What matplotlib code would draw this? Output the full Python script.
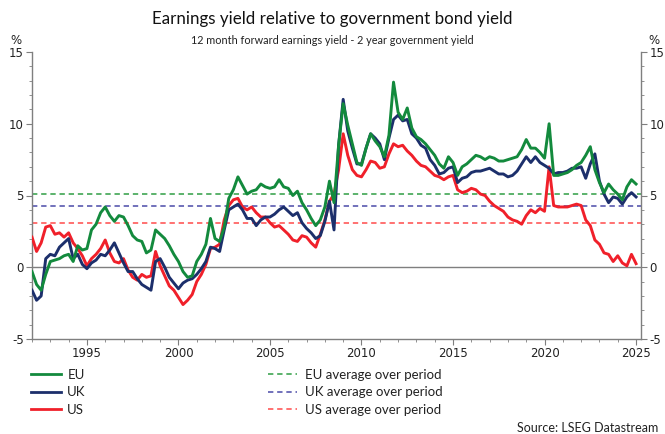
import numpy as np
import matplotlib
matplotlib.use("Agg")
import matplotlib.pyplot as plt
from matplotlib.ticker import MultipleLocator

# ---- data (quarterly readings, 1992.00 .. 2025.00) ----
start_year = 1992.0
step = 0.25

eu = [-0.3, -1.2, -1.6, -0.5, 0.4, 0.5, 0.6, 0.8, 0.9, 0.4, 1.5, 1.2,
      1.3, 2.6, 3.0, 3.8, 4.2, 3.6, 3.2, 3.6, 3.5, 2.9, 2.2, 1.9,
      1.8, 1.0, 1.2, 2.6, 2.3, 2.0, 1.5, 0.9, 0.4, -0.3, -0.7, -0.6,
      0.4, 0.9, 1.6, 3.4, 2.0, 1.8, 2.8, 4.8, 5.4, 6.3, 5.7, 5.1,
      5.3, 5.4, 5.8, 5.6, 5.5, 5.6, 6.1, 5.6, 5.5, 5.0, 5.3, 4.5,
      4.0, 3.4, 2.9, 3.3, 4.2, 6.0, 4.5, 8.5, 11.4, 9.9, 8.6, 7.3,
      7.1, 8.3, 9.3, 8.8, 8.4, 7.7, 9.2, 12.9, 10.8, 10.3, 11.1, 9.7,
      9.1, 8.9, 8.6, 8.2, 7.8, 7.2, 6.9, 7.7, 7.3, 6.4, 7.0, 7.2,
      7.5, 7.8, 7.7, 7.5, 7.7, 7.6, 7.4, 7.4, 7.5, 7.6, 7.7, 8.2,
      8.9, 8.3, 8.3, 8.0, 7.6, 10.0, 6.4, 6.4, 6.5, 6.6, 6.8, 7.1,
      7.3, 7.8, 8.4, 6.8, 5.9, 5.2, 5.8, 5.4, 5.1, 4.7, 5.6, 6.1,
      5.8]

uk = [-1.6, -2.3, -2.0, 0.6, 0.9, 0.8, 1.4, 1.7, 2.0, 0.6, 0.9, 0.2,
      -0.1, 0.3, 0.5, 0.9, 0.8, 1.2, 1.7, 1.0, 0.3, -0.3, -0.3, -0.8,
      -1.2, -1.4, -1.6, 0.4, 0.6, 0.0, -0.7, -1.1, -1.5, -1.1, -0.9, -0.8,
      -0.5, -0.1, 0.4, 1.4, 1.3, 1.1, 2.6, 4.0, 4.2, 4.4, 4.0, 3.4,
      3.4, 2.9, 3.3, 3.5, 3.5, 3.7, 4.0, 4.2, 3.9, 3.6, 3.8, 3.1,
      2.7, 2.4, 2.0, 2.2, 3.2, 4.6, 2.6, 8.5, 11.7, 9.5, 8.3, 7.2,
      7.2, 8.3, 9.3, 9.0, 8.6, 7.5, 9.0, 10.3, 10.6, 10.2, 10.3, 9.3,
      9.0, 8.5, 8.3, 7.5, 7.1, 6.5, 6.6, 6.9, 7.0, 5.9, 6.2, 6.3,
      6.6, 6.7, 6.7, 6.8, 6.9, 6.7, 6.5, 6.5, 6.3, 6.4, 6.7, 7.2,
      7.7, 7.3, 7.7, 7.3, 7.1, 6.9, 6.5, 6.6, 6.6, 6.7, 6.9, 6.9,
      7.0, 6.2, 7.2, 7.9, 6.0, 5.1, 4.5, 4.9, 4.8, 4.4, 4.9, 5.2,
      4.9]

us = [2.1, 1.1, 1.7, 2.8, 2.9, 2.3, 2.4, 2.1, 2.4, 1.7, 1.3, 0.8,
      0.1, 0.6, 0.9, 1.3, 1.9, 1.0, 0.4, 0.3, 0.6, -0.2, -0.7, -0.9,
      -0.5, -0.7, -0.6, 1.1, 0.1, -0.6, -1.3, -1.6, -2.1, -2.6, -2.3, -1.9,
      -1.0, -0.5, 0.2, 1.3, 1.4, 1.6, 3.3, 4.3, 4.7, 4.8, 4.2, 4.0,
      4.2, 3.8, 3.5, 3.5, 3.1, 2.8, 2.9, 2.6, 2.3, 1.9, 1.8, 2.2,
      2.1, 1.7, 1.4, 2.3, 3.3, 4.6, 5.1, 6.8, 9.3, 7.8, 6.8, 6.4,
      6.3, 6.8, 7.4, 7.3, 6.9, 7.0, 7.9, 8.6, 8.4, 8.5, 8.1, 7.8,
      7.4, 7.1, 7.0, 6.7, 6.4, 6.3, 6.1, 6.3, 6.4, 5.4, 5.2, 5.3,
      5.5, 5.4, 5.1, 5.0, 4.6, 4.3, 4.1, 3.9, 3.5, 3.3, 3.2, 3.0,
      3.6, 4.0, 3.8, 4.1, 3.9, 7.0, 4.3, 4.2, 4.2, 4.2, 4.3, 4.4,
      4.3, 3.3, 2.9, 1.9, 1.6, 1.0, 0.9, 0.4, 0.8, 0.3, 0.1, 0.9,
      0.25]

averages = {"EU": 5.1, "UK": 4.25, "US": 3.1}
series_names = ["EU", "UK", "US"]
avg_labels = ["EU average over period", "UK average over period", "US average over period"]
x_ticks = [1995, 2000, 2005, 2010, 2015, 2020, 2025]
y_ticks = [-5, 0, 5, 10, 15]

title = "Earnings yield relative to government bond yield"
subtitle = "12 month forward earnings yield - 2 year government yield"
source = "Source: LSEG Datastream"

# ---- styles ----
line_colors = {"EU": "#138a3d", "UK": "#1c2f6b", "US": "#f0202a"}
dash_colors = {"EU": "#2f9e44", "UK": "#4a4aa8", "US": "#ff4a4a"}
txt_font = ["Lato", "DejaVu Sans"]

years = start_year + step * np.arange(len(eu))
data = {"EU": eu, "UK": uk, "US": us}

fig = plt.figure(figsize=(6.65, 4.34), dpi=100)
ax = fig.add_axes([32 / 665, 1 - 339 / 434, (641 - 32) / 665, (339 - 52) / 434])

ax.axhline(0, color="#7f7f7f", lw=1.0, zorder=1)

line_objs = {}
for name in ["US", "UK", "EU"]:
    (ln,) = ax.plot(years, data[name], color=line_colors[name], lw=2.1, zorder=3,
                    solid_joinstyle="round")
    line_objs[name] = ln

dash_objs = {}
for name in series_names:
    (dl,) = ax.plot([1992.0, 2025.27], [averages[name]] * 2, color=dash_colors[name],
                    lw=1.1, ls=(0, (3.5, 2.5)), zorder=2)
    dash_objs[name] = dl

ax.set_xlim(1992.0, 2025.27)
ax.set_ylim(-5, 15)
ax.xaxis.set_major_locator(plt.FixedLocator(x_ticks))
ax.xaxis.set_minor_locator(MultipleLocator(1))
ax.yaxis.set_major_locator(plt.FixedLocator(y_ticks))
ax.yaxis.set_minor_locator(MultipleLocator(1))

for s in ["left", "right", "bottom"]:
    ax.spines[s].set_color("#7f7f7f")
    ax.spines[s].set_linewidth(1.0)
ax.spines["top"].set_visible(False)

ax.tick_params(axis="y", which="both", left=True, right=True, labelleft=True,
               labelright=True, direction="out", color="#7f7f7f", labelsize=8.5,
               labelcolor="#222222")
ax.tick_params(axis="y", which="major", length=4, pad=2)
ax.tick_params(axis="y", which="minor", length=2.5)
ax.tick_params(axis="x", which="both", direction="out", color="#7f7f7f",
               labelsize=8.5, labelcolor="#222222")
ax.tick_params(axis="x", which="major", length=4, pad=2)
ax.tick_params(axis="x", which="minor", length=2.5)
ax.set_xticklabels([str(t) for t in x_ticks])
ax.set_yticklabels([str(t) for t in y_ticks])

fig.text(0.5, 1 - 19 / 434, title, ha="center", va="center", fontsize=12.2,
         family=txt_font, color="#111111")
fig.text(0.5, 1 - 40 / 434, subtitle, ha="center", va="center", fontsize=7.8,
         family=txt_font, color="#222222")
fig.text(16 / 665, 1 - 40 / 434, "%", ha="center", va="center", fontsize=8.5,
         color="#222222")
fig.text(654 / 665, 1 - 40 / 434, "%", ha="center", va="center", fontsize=8.5,
         color="#222222")

leg1 = fig.legend([line_objs[n] for n in series_names], series_names,
                  loc="upper left", bbox_to_anchor=(31 / 665, 1 - 369 / 434),
                  frameon=False, handlelength=2.3, handletextpad=0.45,
                  labelspacing=0.4, borderaxespad=0, borderpad=0,
                  prop={"family": txt_font, "size": 9.5})
leg2 = fig.legend([dash_objs[n] for n in series_names], avg_labels,
                  loc="upper left", bbox_to_anchor=(268 / 665, 1 - 369 / 434),
                  frameon=False, handlelength=2.2, handletextpad=0.6,
                  labelspacing=0.4, borderaxespad=0, borderpad=0,
                  prop={"family": txt_font, "size": 9.5})
for leg in (leg1, leg2):
    for t in leg.get_texts():
        t.set_color("#222222")
for h in leg1.legend_handles:
    h.set_linewidth(2.0)

fig.text(658 / 665, 1 - 428 / 434, source, ha="right", va="center", fontsize=9,
         family=txt_font, color="#222222")

fig.savefig("out.png", dpi=100)
